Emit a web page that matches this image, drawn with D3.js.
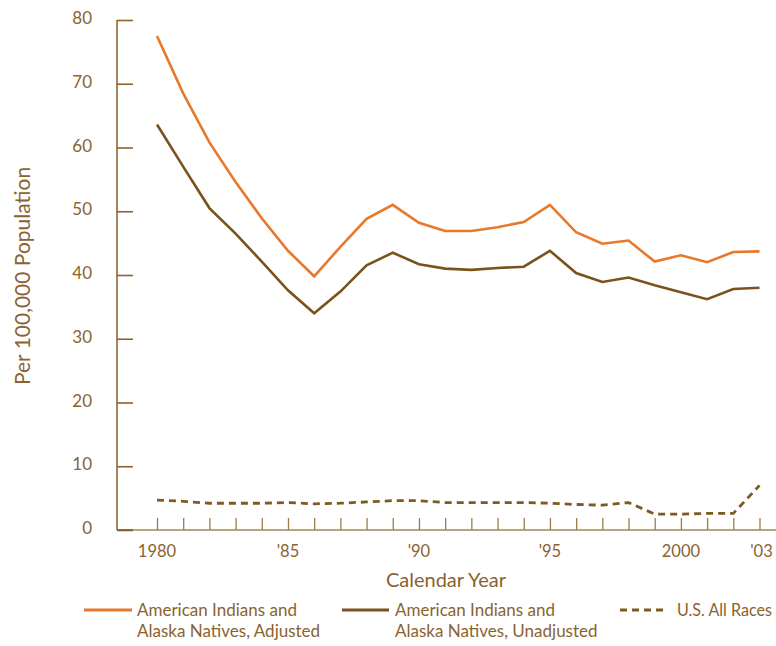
<!DOCTYPE html>
<html><head><meta charset="utf-8">
<script src="https://cdn.jsdelivr.net/npm/d3@7"></script>
<style>body{margin:0;background:#fff}svg{display:block}text{font-family:Lato,"Open Sans",sans-serif;fill:#8a6330}</style>
</head><body><svg id="c" width="776" height="646"></svg>
<script>
const years = d3.range(1980, 2004);
const adjusted = [77.5,68.5,60.8,54.6,48.9,43.8,39.8,44.4,48.8,51.0,48.2,46.9,46.9,47.5,48.3,51.0,46.7,44.9,45.4,42.1,43.1,42.0,43.6,43.7];
const unadjusted = [63.6,57.0,50.5,46.5,42.1,37.6,34.0,37.4,41.5,43.5,41.7,41.0,40.8,41.1,41.3,43.8,40.3,38.9,39.6,38.4,37.3,36.2,37.8,38.0];
const usAllRaces = [4.7,4.5,4.2,4.2,4.2,4.3,4.1,4.2,4.4,4.6,4.6,4.3,4.3,4.3,4.3,4.2,4.0,3.9,4.3,2.5,2.5,2.6,2.6,7.0];
const yTicks = [0,10,20,30,40,50,60,70,80];
const xTickLabels = [[1980,"1980"],[1985,"'85"],[1990,"'90"],[1995,"'95"],[2000,"2000"],[2003,"'03"]];
const seriesNames = ["American Indians and|Alaska Natives, Adjusted","American Indians and|Alaska Natives, Unadjusted","U.S. All Races"];

const svg = d3.select("#c");
const x = d3.scaleLinear().domain([1980,2003]).range([157,759.5]);
const y = d3.scaleLinear().domain([0,80]).range([530,20]);
const axisCol = "#8b6a3a";

// y axis
const ya = svg.append("g").attr("transform","translate(117,0)")
  .call(d3.axisRight(y).tickValues(yTicks).tickSize(16).tickFormat(""));
ya.select(".domain").attr("stroke",axisCol).attr("stroke-width",1.6).attr("d","M0,20V530");
ya.selectAll(".tick line").attr("stroke","#8b6230").attr("stroke-width",1.6);
svg.append("g").selectAll("text").data(yTicks).join("text")
  .attr("x",92).attr("y",d=>y(d)+4).attr("text-anchor","end")
  .style("font-size","17px").text(d=>d);

// x axis
const xa = svg.append("g").attr("transform","translate(0,530)")
  .call(d3.axisTop(x).tickValues(years).tickSize(12).tickFormat(""));
xa.select(".domain").attr("stroke","#a08458").attr("stroke-width",1.6).attr("d","M117,0H776");
xa.selectAll(".tick line").attr("stroke","#9c7c4c").attr("stroke-width",1.3);
svg.append("line").attr("x1",117).attr("x2",133).attr("y1",530).attr("y2",530).attr("stroke","#8b6230").attr("stroke-width",1.8);
svg.append("g").selectAll("text").data(xTickLabels).join("text")
  .attr("x",d=>x(d[0])+(d[0]===2003?2:0)).attr("y",557).attr("text-anchor","middle")
  .style("font-size","16.5px").text(d=>d[1]);

svg.append("text").attr("x",446).attr("y",587).attr("text-anchor","middle")
  .style("font-size","20px").text("Calendar Year");
svg.append("text").attr("transform","translate(30,276) rotate(-90)").attr("text-anchor","middle")
  .style("font-size","21px").text("Per 100,000 Population");

const line = d3.line().x((d,i)=>x(years[i])).y(d=>y(d));
svg.append("path").datum(adjusted).attr("d",line).attr("fill","none").attr("stroke","#e8782a").attr("stroke-width",2.6);
svg.append("path").datum(unadjusted).attr("d",line).attr("fill","none").attr("stroke","#7a521b").attr("stroke-width",2.6);
svg.append("path").datum(usAllRaces).attr("d",line).attr("fill","none").attr("stroke","#7f5a20").attr("stroke-width",2.8).attr("stroke-dasharray","7,5");

// legend
const leg = [
 {x1:84,x2:132,tx:137,col:"#e8782a",dash:null,name:seriesNames[0]},
 {x1:342,x2:389,tx:395,col:"#7a521b",dash:null,name:seriesNames[1]},
 {x1:620,x2:668,tx:677,col:"#7f5a20",dash:"7,5",name:seriesNames[2],len:95}
];
leg.forEach(l=>{
  svg.append("line").attr("x1",l.x1).attr("x2",l.x2).attr("y1",610).attr("y2",610)
    .attr("stroke",l.col).attr("stroke-width",2.8).attr("stroke-dasharray",l.dash);
  const t = svg.append("text").attr("x",l.tx).attr("y",616).style("font-size","17px");
  l.name.split("|").forEach((s,i)=>{
    const ts = t.append("tspan").attr("x",l.tx).attr("dy",i?21:0).text(s);
    if (l.len) ts.attr("textLength",l.len).attr("lengthAdjust","spacingAndGlyphs");
  });
});
</script></body></html>
